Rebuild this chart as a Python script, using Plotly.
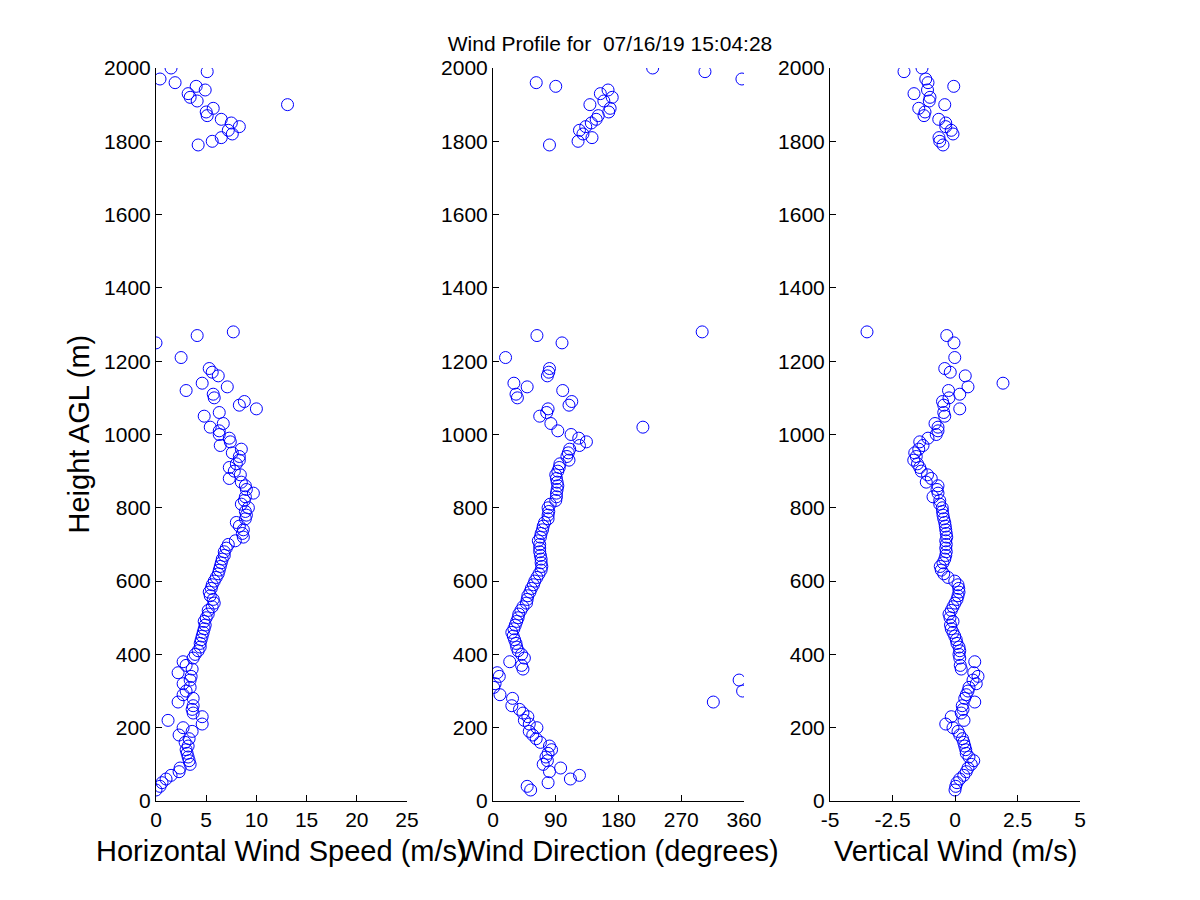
import plotly.graph_objects as go

# ── Data ────────────────────────────────────────────────────────────────
# range gates (m AGL) that have a valid sample
HEIGHTS = [
    30, 40, 50, 60, 70, 80, 90, 100, 110, 120,
    130, 140, 150, 160, 170, 180, 190, 200, 210, 220,
    230, 240, 250, 260, 270, 280, 290, 300, 310, 320,
    330, 340, 350, 360, 370, 380, 390, 400, 410, 420,
    430, 440, 450, 460, 470, 480, 490, 500, 510, 520,
    530, 540, 550, 560, 570, 580, 590, 600, 610, 620,
    630, 640, 650, 660, 670, 680, 690, 700, 710, 720,
    730, 740, 750, 760, 770, 780, 790, 800, 810, 820,
    830, 840, 850, 860, 870, 880, 890, 900, 910, 920,
    930, 940, 950, 960, 970, 980, 990, 1000, 1010, 1020,
    1030,
    1050, 1060, 1070, 1080, 1090, 1100, 1110, 1120, 1130, 1140,
    1160, 1170, 1180, 1210, 1250, 1270, 1280,
    1790, 1800, 1810, 1820, 1830, 1840, 1850, 1860, 1870, 1880,
    1890, 1900, 1910, 1920, 1930, 1940, 1950, 1960, 1970, 1990,
    2000,
]

# horizontal wind speed (m/s)
SPEED = [
    0.0, 0.4, 0.6, 1.0, 1.5, 2.3, 2.4, 3.4, 3.3, 3.2,
    3.1, 3.0, 3.2, 2.9, 3.3, 2.3, 3.6, 2.7, 4.6, 1.2,
    4.6, 3.7, 3.6, 3.7, 2.2, 3.7, 2.7, 3.0, 3.4, 2.7,
    3.4, 3.5, 2.2, 3.6, 3.0, 2.7, 3.7, 3.9, 4.2, 4.4,
    4.4, 4.5, 4.6, 4.7, 4.8, 4.9, 4.8, 5.0, 5.2, 5.2,
    5.6, 5.8, 5.7, 5.4, 5.3, 5.5, 5.6, 5.8, 6.0, 6.2,
    6.3, 6.4, 6.5, 6.6, 6.8, 6.8, 7.0, 7.2, 7.9, 8.7,
    8.6, 8.7, 8.3, 8.0, 8.9, 9.0, 8.9, 9.2, 8.5, 8.8,
    8.9, 9.7, 9.0, 8.9, 8.5, 7.3, 8.4, 7.8, 7.3, 8.0,
    8.3, 8.3, 7.6, 8.5, 6.4, 7.4, 7.3, 6.3, 6.3, 5.4,
    6.7,
    4.8, 6.3, 10.0, 8.3, 8.8, 5.8, 5.7, 3.0, 7.1, 4.6,
    6.2, 5.6, 5.3, 2.5, 0.0, 4.1, 7.7,
    4.2, 5.6, 6.5, 7.6, 7.2, 8.3, 7.5, 6.5, 5.1, 5.0,
    5.7, 13.1, 4.1, 3.4, 3.2, 4.9, 4.0, 1.9, 0.4, 5.1,
    1.5,
]

# wind direction (degrees)
DIRECTION = [
    54, 49, 79, 111, 124, 81, 97, 72, 78, 76,
    79, 84, 81, 68, 62, 57, 52, 63, 52, 45,
    50, 43, 38, 27, 316, 28, 10, 358, 1, 3,
    353, 9, 6, 43, 41, 24, 45, 41, 36, 34,
    33, 31, 29, 27, 30, 32, 34, 36, 37, 40,
    43, 48, 49, 50, 53, 55, 58, 60, 63, 66,
    69, 70, 69, 69, 68, 67, 67, 67, 65, 68,
    69, 71, 72, 74, 79, 79, 80, 79, 82, 90,
    91, 91, 92, 93, 92, 91, 90, 93, 95, 96,
    109, 106, 108, 110, 124, 134, 123, 112, 93, 215,
    83,
    67, 77, 79, 109, 113, 35, 33, 100, 49, 30,
    78, 80, 81, 18, 99, 63, 300,
    81, 122, 142, 129, 124, 133, 141, 148, 151, 166,
    168, 139, 159, 171, 154, 165, 90, 62, 357, 304,
    229,
]

# vertical wind (m/s)
VERTICAL = [
    0.0, 0.03, 0.08, 0.19, 0.35, 0.45, 0.52, 0.65, 0.75, 0.56,
    0.45, 0.43, 0.39, 0.35, 0.3, 0.19, 0.12, -0.08, -0.37, 0.36,
    -0.15, 0.25, 0.32, 0.29, 0.79, 0.39, 0.45, 0.52, 0.56, 0.85,
    0.72, 0.92, 0.75, 0.25, 0.21, 0.79, 0.19, 0.16, 0.19, 0.16,
    0.08, 0.05, -0.01, -0.08, -0.15, -0.18, -0.08, -0.2, -0.24, -0.15,
    -0.08, 0.0, 0.08, 0.12, 0.16, 0.15, 0.12, -0.01, -0.28, -0.45,
    -0.55, -0.59, -0.48, -0.41, -0.37, -0.35, -0.37, -0.35, -0.37, -0.33,
    -0.35, -0.37, -0.39, -0.41, -0.45, -0.48, -0.5, -0.51, -0.61, -0.61,
    -0.88, -0.68, -0.72, -0.68, -1.15, -0.95, -1.1, -1.35, -1.41, -1.5,
    -1.65, -1.55, -1.61, -1.45, -1.28, -1.41, -1.08, -0.75, -0.68, -0.68,
    -0.8,
    -0.41, -0.45, 0.19, -0.45, -0.5, -0.24, 0.19, -0.26, 0.52, 1.92,
    0.41, -0.19, -0.41, -0.01, -0.04, -0.33, -3.52,
    -0.48, -0.61, -0.64, -0.08, -0.15, -0.37, -0.37, -0.65, -1.24, -1.2,
    -1.45, -0.41, -1.03, -1.0, -1.64, -1.1, -0.05, -1.08, -1.17, -2.04,
    -1.32,
]

HEIGHT_TICKS = [0, 200, 400, 600, 800, 1000, 1200, 1400, 1600, 1800, 2000]
SPEED_TICKS = [0, 5, 10, 15, 20, 25]
DIR_TICKS = [0, 90, 180, 270, 360]
VERT_TICKS = [-5, -2.5, 0, 2.5, 5]
VERT_TICKTEXT = ["-5", "-2.5", "0", "2.5", "5"]

TITLE = "Wind Profile for \u00a007/16/19 15:04:28"
FONT = "Liberation Sans, Arial, Helvetica, sans-serif"
BLUE = "#0000ff"

# page is 1200x900; the plotly div sits inside the body's 8px margin
OFF = 8
FW, FH = 1200 - 2 * OFF, 900 - 2 * OFF
# panel x-extents and common y-extent, in page pixels
PANELS = [(156, 407), (493, 744), (830, 1080)]
Y_TOP, Y_BOT = 68, 800.7
L, R = PANELS[0][0], PANELS[-1][1]
PLOT_W = R - L

fig = go.Figure()

series = [SPEED, DIRECTION, VERTICAL]
for i, xs in enumerate(series):
    sfx = "" if i == 0 else str(i + 1)
    fig.add_trace(go.Scatter(
        x=xs, y=HEIGHTS, mode="markers",
        marker=dict(symbol="circle-open", size=12, color=BLUE,
                    line=dict(width=1, color=BLUE)),
        xaxis="x" + sfx, yaxis="y" + sfx, showlegend=False,
        hoverinfo="x+y"
    ))

axis_common = dict(
    showline=True, linecolor="black", linewidth=1,
    ticks="inside", ticklen=6, tickcolor="black", tickwidth=1,
    showgrid=False, zeroline=False, mirror=False, automargin=False,
    tickfont=dict(family=FONT, size=21, color="black"),
)

x_specs = [
    dict(range=[0, 25], tickvals=SPEED_TICKS),
    dict(range=[0, 360], tickvals=DIR_TICKS),
    dict(range=[-5, 5], tickvals=VERT_TICKS, ticktext=VERT_TICKTEXT),
]

layout = {}
for i, ((x0, x1), spec) in enumerate(zip(PANELS, x_specs)):
    sfx = "" if i == 0 else str(i + 1)
    layout["xaxis" + sfx] = dict(
        domain=[(x0 - L) / PLOT_W, (x1 - L) / PLOT_W],
        anchor="y" + sfx, **spec, **axis_common)
    layout["yaxis" + sfx] = dict(
        domain=[0, 1], anchor="x" + sfx, range=[0, 2000],
        tickvals=HEIGHT_TICKS, **axis_common)


def px_x(px):
    return (px - L) / PLOT_W


def px_y(py):
    return (Y_BOT - py) / (Y_BOT - Y_TOP)


x_titles = ["Horizontal Wind Speed (m/s)", "Wind Direction (degrees)",
            "Vertical Wind (m/s)"]
annotations = []
for (x0, x1), txt in zip(PANELS, x_titles):
    annotations.append(dict(
        text=txt, xref="paper", yref="paper",
        x=px_x((x0 + x1) / 2), y=px_y(851),
        xanchor="center", yanchor="middle", showarrow=False,
        font=dict(family=FONT, size=29, color="black")))
annotations.append(dict(
    text="Height AGL (m)", xref="paper", yref="paper",
    x=px_x(78), y=0.5, textangle=-90,
    xanchor="center", yanchor="middle", showarrow=False,
    font=dict(family=FONT, size=29, color="black")))

fig.update_layout(
    **layout,
    annotations=annotations,
    title=dict(text=TITLE, x=(610 - OFF) / FW, y=1 - (44 - OFF) / FH,
               xanchor="center", yanchor="middle",
               xref="container", yref="container",
               font=dict(family=FONT, size=21, color="black")),
    width=FW, height=FH,
    margin=dict(l=L - OFF, r=FW - (R - OFF), t=Y_TOP - OFF,
                b=FH - (Y_BOT - OFF), autoexpand=False),
    paper_bgcolor="white", plot_bgcolor="white",
)

fig.write_html("out.html")
